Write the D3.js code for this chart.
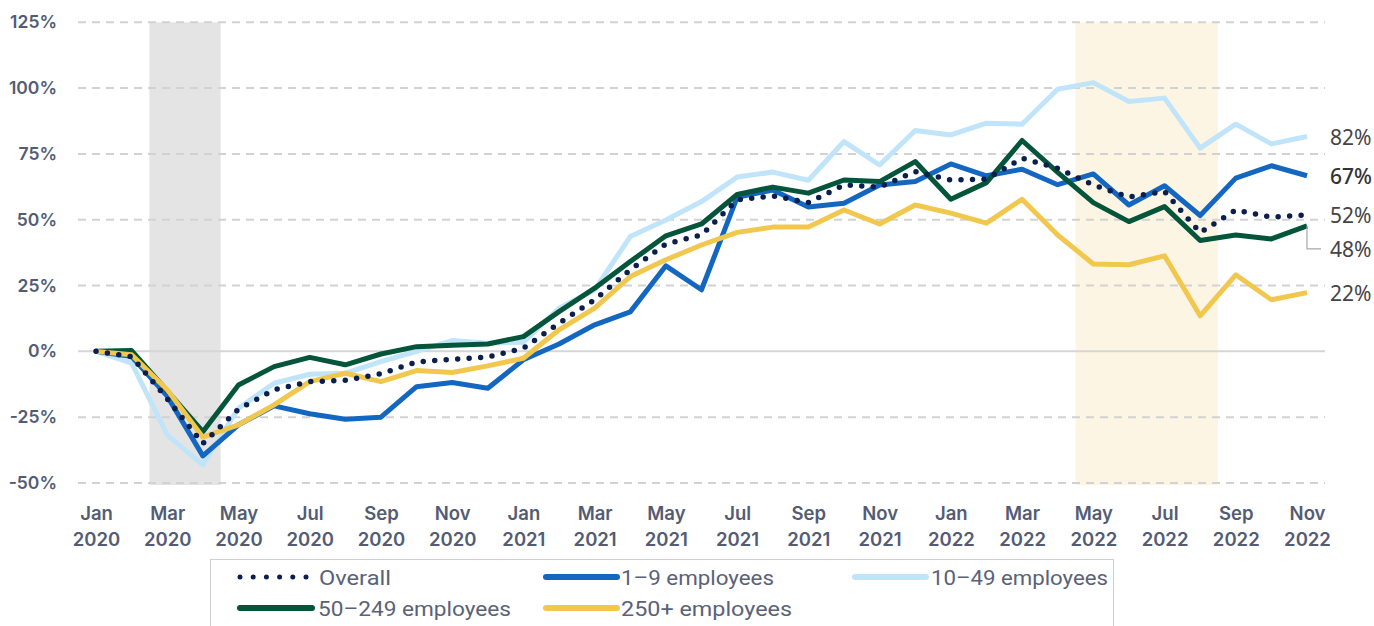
<!DOCTYPE html>
<html>
<head>
<meta charset="utf-8">
<script src="https://cdn.jsdelivr.net/npm/d3@7"></script>
<style>
  html, body { margin: 0; padding: 0; background: #fff; }
  svg { display: block; }
</style>
</head>
<body>
<svg id="chart" width="1374" height="626"></svg>
<script>
// ---------- DATA ----------
const months = ["Jan 2020","Feb 2020","Mar 2020","Apr 2020","May 2020","Jun 2020","Jul 2020","Aug 2020","Sep 2020","Oct 2020","Nov 2020","Dec 2020",
  "Jan 2021","Feb 2021","Mar 2021","Apr 2021","May 2021","Jun 2021","Jul 2021","Aug 2021","Sep 2021","Oct 2021","Nov 2021","Dec 2021",
  "Jan 2022","Feb 2022","Mar 2022","Apr 2022","May 2022","Jun 2022","Jul 2022","Aug 2022","Sep 2022","Oct 2022","Nov 2022"];

const overall = [0, -2, -18, -35, -22, -14.6, -11.5, -11, -8.5, -4, -3, -2.2, 1.2, 10.7, 19.6, 31, 40.8, 44.2, 57.5, 59.1, 56.5, 63.2, 62.4, 68.3, 65.1, 65.4, 73.4, 69.5, 63.2, 58.6, 60.7, 45.1, 53.7, 51, 51.8];
const emp1to9 = [0, -2, -17, -39.7, -27.9, -20.7, -23.7, -25.8, -25, -13.4, -11.8, -14, -3.2, 2.8, 10.1, 15, 32.5, 23.4, 58.5, 61.3, 54.8, 56.3, 63.2, 64.5, 71.2, 66.7, 69.2, 63.3, 67.4, 55.6, 62.9, 51.6, 65.8, 70.5, 66.7];
const emp10to49 = [0, -4.5, -31.7, -43.1, -21.6, -12.1, -8.7, -8.3, -3.9, 0, 4.1, 3.1, 3.5, 16.4, 23.4, 43.6, 49.9, 56.9, 66.2, 68.1, 65, 79.7, 70.8, 83.9, 82.2, 86.7, 86.3, 99.6, 102.1, 94.9, 96.2, 77.2, 86.3, 78.8, 81.6];
const emp50to249 = [0, 0.3, -15, -30.5, -12.8, -5.8, -2.3, -5.1, -1, 1.8, 2.3, 2.8, 5.6, 15.1, 24, 34.1, 43.9, 48.4, 59.6, 62.4, 60.1, 65.1, 64.5, 72.1, 57.8, 64.1, 80.1, 68, 56.5, 49.3, 55, 42.1, 44.2, 42.7, 47.7];
const emp250plus = [0, -1.3, -14.6, -32.6, -27.9, -20.3, -11.5, -8.3, -11.5, -7.3, -8, -5.5, -2.6, 8.2, 16.4, 28.4, 34.8, 40.4, 45.2, 47.2, 47.2, 53.7, 48.4, 55.6, 52.5, 48.7, 57.8, 44.2, 33.2, 32.9, 36.3, 13.5, 29.1, 19.6, 22.3];

const seriesNames = ["Overall", "1–9 employees", "10–49 employees", "50–249 employees", "250+ employees"];
const yTicks = [-50, -25, 0, 25, 50, 75, 100, 125];
const xTickMonths = months.filter((m, i) => i % 2 === 0);
// shaded periods, in month-index units
const shadeGray = [1.5, 3.5];
const shadeYellow = [27.5, 31.5];

// ---------- STYLE ----------
const styles = {
  "Overall":          { color: "#0b1f4f", width: 5, dots: true },
  "1–9 employees":    { color: "#1467c0", width: 5 },
  "10–49 employees":  { color: "#c0e4f9", width: 5 },
  "50–249 employees": { color: "#04553a", width: 5 },
  "250+ employees":   { color: "#f1c84d", width: 5 }
};
const seriesData = {
  "Overall": overall,
  "1–9 employees": emp1to9,
  "10–49 employees": emp10to49,
  "50–249 employees": emp50to249,
  "250+ employees": emp250plus
};
const drawOrder = ["10–49 employees", "1–9 employees", "50–249 employees", "250+ employees", "Overall"];

const svg = d3.select("#chart");
const x = d3.scalePoint().domain(months).range([96, 1307]);
const xi = d3.scaleLinear().domain([0, months.length - 1]).range([96, 1307]);
const y = d3.scaleLinear().domain([-50, 125]).range([483, 22.3]);
const gridX0 = 78, gridX1 = 1325;

// shades
[[shadeGray, "#e4e4e4"], [shadeYellow, "#fdf5e3"]].forEach(([r, c]) => {
  svg.append("rect")
    .attr("x", xi(r[0])).attr("width", xi(r[1]) - xi(r[0]))
    .attr("y", y(125)).attr("height", y(-50) - y(125) + 2)
    .attr("fill", c);
});

// gridlines
svg.append("g").selectAll("line").data(yTicks).join("line")
  .attr("x1", gridX0).attr("x2", gridX1)
  .attr("y1", d => y(d)).attr("y2", d => y(d))
  .attr("stroke", d => d === 0 ? "#d6d6d6" : "#d2d2d2")
  .attr("stroke-width", 2)
  .attr("stroke-dasharray", d => d === 0 ? null : "8 6");

// y axis labels
const yAxis = d3.axisLeft(y).tickValues(yTicks).tickFormat(d => d + "%").tickSize(0).tickPadding(21);
const gy = svg.append("g").attr("transform", `translate(${gridX0},0)`).call(yAxis);
gy.select(".domain").remove();
gy.selectAll("text")
  .attr("font-family", "Inter, 'Open Sans', sans-serif")
  .attr("font-size", 17.5).attr("font-weight", 600)
  .attr("fill", "#535c74");

// x axis labels (two lines)
const xAxis = d3.axisBottom(x).tickValues(xTickMonths).tickSize(0).tickFormat("");
const gx = svg.append("g").attr("transform", `translate(0,${y(-50)})`).call(xAxis);
gx.select(".domain").remove();
gx.selectAll(".tick").each(function(d) {
  const parts = d.split(" ");
  const t = d3.select(this).append("text")
    .attr("text-anchor", "middle")
    .attr("font-family", "Inter, 'Open Sans', sans-serif")
    .attr("font-size", 18.5).attr("font-weight", 600)
    .attr("fill", "#535c74");
  t.append("tspan").attr("x", 0).attr("y", 37).text(parts[0]);
  t.append("tspan").attr("x", 0).attr("y", 63).text(parts[1]);
});

// lines
const line = d3.line().x((d, i) => x(months[i])).y(d => y(d));
drawOrder.forEach(name => {
  const s = styles[name];
  const p = svg.append("path")
    .datum(seriesData[name])
    .attr("d", line)
    .attr("fill", "none")
    .attr("stroke", s.color)
    .attr("stroke-width", s.width)
    .attr("stroke-linejoin", "round");
  if (s.dots) {
    p.attr("stroke-dasharray", "0 11.5").attr("stroke-linecap", "round").attr("stroke-width", 5.5);
  } else {
    p.attr("stroke-linecap", "butt");
  }
});

// end labels
const fmt = d3.format(".0f");
const last = months[months.length - 1];
const endOrder = ["10–49 employees", "1–9 employees", "Overall", "50–249 employees", "250+ employees"];
const labelX = 1330;
endOrder.forEach(name => {
  const v = seriesData[name][seriesData[name].length - 1];
  let ly = y(v) + 8;
  if (name === "50–249 employees") {
    // pushed down to avoid overlap with the Overall label, with a leader line
    ly = y(v) + 31;
    svg.append("path")
      .attr("d", `M${x(last)},${y(v)} V${ly - 8} H${labelX - 9}`)
      .attr("fill", "none").attr("stroke", "#a8a8a8").attr("stroke-width", 1.2);
  }
  svg.append("text")
    .attr("x", labelX).attr("y", ly)
    .attr("font-family", "'Noto Sans', sans-serif")
    .attr("font-size", 21)
    .attr("font-weight", name === "1–9 employees" ? 500 : 400)
    .attr("fill", name === "1–9 employees" ? "#333" : "#444")
    .text(fmt(v) + "%");
});

// legend
svg.append("rect")
  .attr("x", 210.5).attr("y", 559.5).attr("width", 903).attr("height", 80)
  .attr("fill", "#fff").attr("stroke", "#cfcfd4").attr("stroke-width", 1);
const legendLayout = [
  { name: "Overall", sx: 240, ex: 306, tx: 319, row: 0, tl: 72 },
  { name: "1–9 employees", sx: 546, ex: 617, tx: 621, row: 0, tl: 153 },
  { name: "10–49 employees", sx: 855, ex: 926, tx: 931, row: 0, tl: 177 },
  { name: "50–249 employees", sx: 240, ex: 312, tx: 318, row: 1, tl: 193 },
  { name: "250+ employees", sx: 546, ex: 617, tx: 621, row: 1, tl: 171 }
];
const rowY = [577, 608];
legendLayout.forEach(L => {
  const s = styles[L.name];
  const ly = rowY[L.row];
  const sw = svg.append("line")
    .attr("x1", L.sx).attr("x2", L.ex)
    .attr("y1", ly).attr("y2", ly)
    .attr("stroke", s.color).attr("stroke-width", s.dots ? 5 : 6)
    .attr("stroke-linecap", "round");
  if (s.dots) sw.attr("stroke-dasharray", "0 13.2");
  svg.append("text")
    .attr("x", L.tx).attr("y", ly + 7.5)
    .attr("font-family", "Roboto, 'Noto Sans', sans-serif")
    .attr("font-size", 21)
    .attr("fill", "#5a6278")
    .attr("textLength", L.tl).attr("lengthAdjust", "spacingAndGlyphs")
    .text(L.name);
});
</script>
</body>
</html>
